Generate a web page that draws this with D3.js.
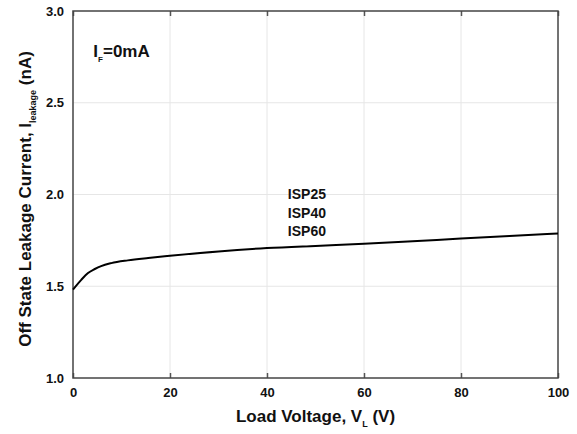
<!DOCTYPE html>
<html>
<head>
<meta charset="utf-8">
<script src="https://cdn.jsdelivr.net/npm/d3@7"></script>
<style>
  body { margin: 0; background: #fff; }
  text { font-family: "Liberation Sans", Arial, sans-serif; font-weight: bold; fill: #111; }
</style>
</head>
<body>
<svg width="577" height="434"></svg>
<script>
// values
const voltage = [0, 1.7, 3.1, 4.5, 5.8, 7.9, 11.3, 15.5, 20, 30, 40, 50, 60, 70, 80, 90, 100];
const leakage = [1.482, 1.535, 1.572, 1.594, 1.61, 1.626, 1.641, 1.654, 1.666, 1.69, 1.708, 1.72, 1.731, 1.745, 1.76, 1.774, 1.787];
const xTicks = [0, 20, 40, 60, 80, 100];
const yTicks = [1.0, 1.5, 2.0, 2.5, 3.0];
const seriesLabels = ['ISP25', 'ISP40', 'ISP60'];

const svg = d3.select('svg');
const width = +svg.attr('width');
const height = +svg.attr('height');

const margin = {top: 11, right: 19, bottom: 56, left: 73};
const innerWidth = width - margin.left - margin.right;
const innerHeight = height - margin.top - margin.bottom;

const data = voltage.map((v, i) => ({v: v, c: leakage[i]}));

const xScale = d3.scaleLinear().domain([0, 100]).range([0, innerWidth]);
const yScale = d3.scaleLinear().domain([1, 3]).range([innerHeight, 0]);

const g = svg.append('g')
  .attr('transform', `translate(${margin.left}, ${margin.top})`);

// light grid
g.append('g').selectAll('line').data(xTicks.slice(1, -1))
  .enter().append('line')
    .attr('x1', d => xScale(d)).attr('x2', d => xScale(d))
    .attr('y1', 0).attr('y2', innerHeight)
    .attr('stroke', '#e6e6e6');
g.append('g').selectAll('line').data(yTicks.slice(1, -1))
  .enter().append('line')
    .attr('y1', d => yScale(d)).attr('y2', d => yScale(d))
    .attr('x1', 0).attr('x2', innerWidth)
    .attr('stroke', '#e6e6e6');

// axes with inner ticks
const xAxis = d3.axisBottom(xScale).tickValues(xTicks).tickSize(-5).tickPadding(10)
  .tickFormat(d3.format('d'));
const xAxisGroup = g.append('g').attr('transform', `translate(0, ${innerHeight})`).call(xAxis);
const xTop = g.append('g').call(d3.axisTop(xScale).tickValues(xTicks).tickSize(-5));
xTop.selectAll('text').remove();
const yAxis = d3.axisLeft(yScale).tickValues(yTicks).tickSize(0).tickPadding(9)
  .tickFormat(d3.format('.1f'));
const yAxisGroup = g.append('g').call(yAxis);
[xAxisGroup, xTop, yAxisGroup].forEach(a => {
  a.select('.domain').remove();
  a.selectAll('line').attr('stroke', '#555').attr('stroke-width', 1.5);
  a.selectAll('text').style('font-size', '13px').style('font-weight', 'bold')
    .style('font-family', '"Liberation Sans", Arial, sans-serif').attr('fill', '#111');
});

// frame
g.append('rect')
  .attr('width', innerWidth).attr('height', innerHeight)
  .attr('fill', 'none').attr('stroke', '#444').attr('stroke-width', 1.5);

// curve
const line = d3.line()
  .x(d => xScale(d.v))
  .y(d => yScale(d.c))
  .curve(d3.curveMonotoneX);
g.append('path').datum(data)
  .attr('d', line)
  .attr('fill', 'none')
  .attr('stroke', '#000')
  .attr('stroke-width', 2);

// annotations
const cond = g.append('text').attr('x', xScale(4.2)).attr('y', yScale(2.747)).style('font-size', '17px');
cond.append('tspan').text('I');
cond.append('tspan').text('F').style('font-size', '8px').attr('dy', 5);
cond.append('tspan').text('=0mA').attr('dy', -5);

g.selectAll('.series-label').data(seriesLabels)
  .enter().append('text')
    .attr('class', 'series-label')
    .attr('x', xScale(44.3))
    .attr('y', (d, i) => yScale(1.975) + i * 18.5)
    .style('font-size', '14px')
    .text(d => d);

// axis titles
const xt = g.append('text')
  .attr('x', innerWidth / 2)
  .attr('y', innerHeight + 44)
  .attr('text-anchor', 'middle')
  .style('font-size', '17px');
xt.append('tspan').text('Load Voltage, V');
xt.append('tspan').text('L').style('font-size', '9px').attr('dy', 5);
xt.append('tspan').text(' (V)').attr('dy', -5);

const yt = g.append('text')
  .attr('transform', 'rotate(-90)')
  .attr('x', -188)
  .attr('y', -42)
  .attr('text-anchor', 'middle')
  .style('font-size', '17px');
yt.append('tspan').text('Off State Leakage Current, I');
yt.append('tspan').text('leakage').style('font-size', '9px').attr('dy', 5);
yt.append('tspan').text(' (nA)').attr('dy', -5);
</script>
</body>
</html>
